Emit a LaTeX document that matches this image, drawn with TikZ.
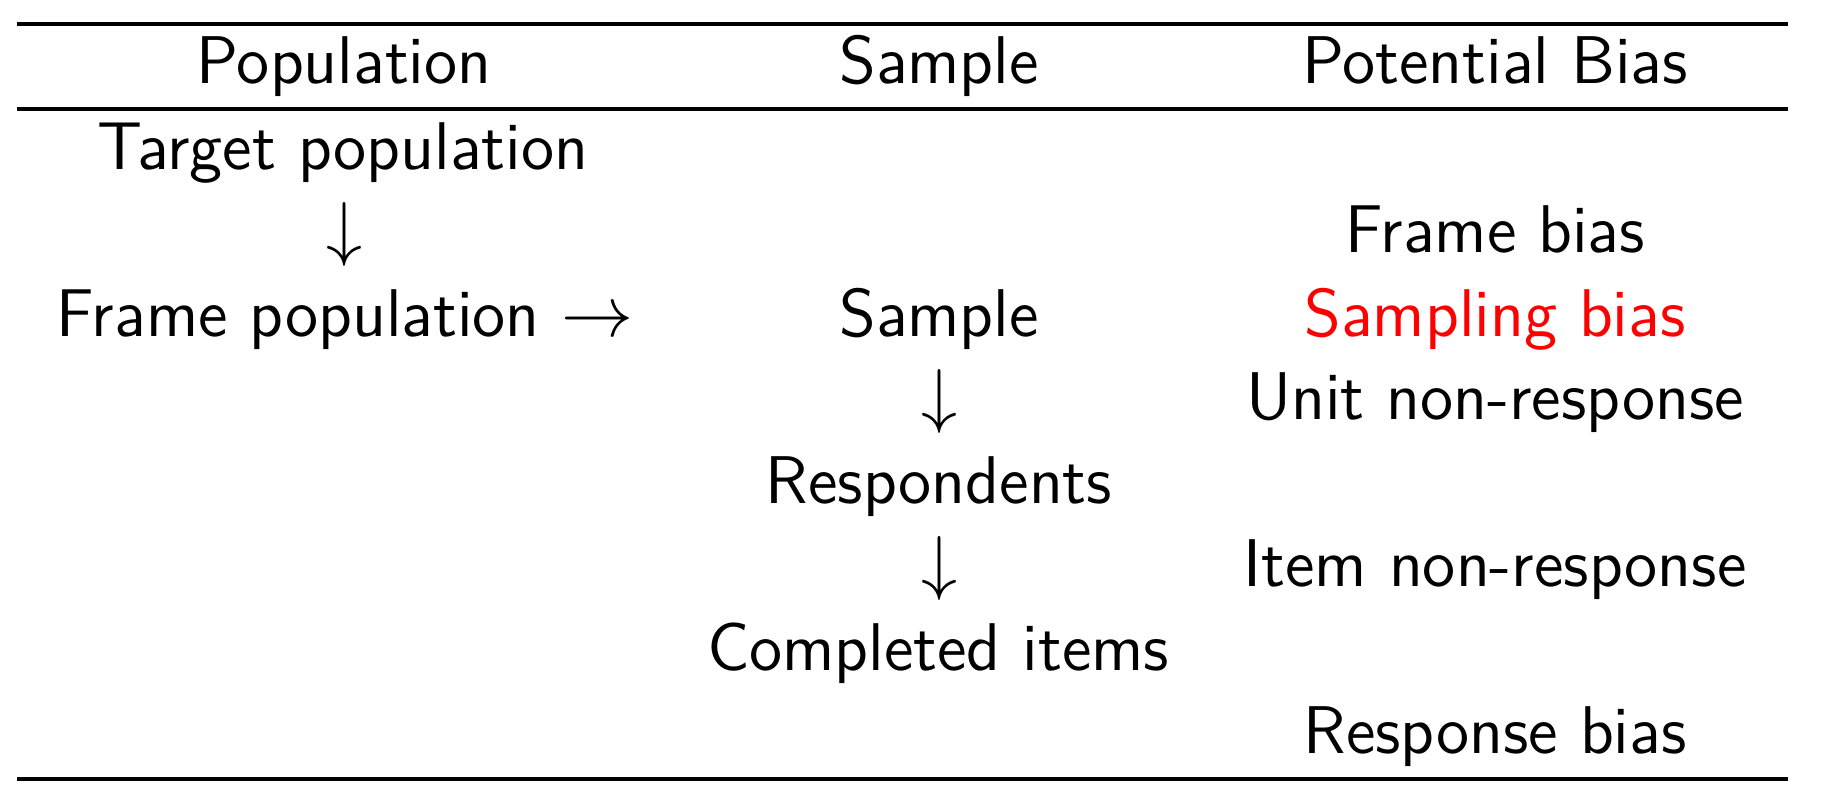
\documentclass[tikz,border=0pt]{standalone}
\begin{document}
\begin{tikzpicture}[x=0.2pt,y=-0.2pt,
  txt/.style={anchor=base,inner sep=0pt,font=\fontsize{13.5}{16}\selectfont\sffamily},
  rulethick/.style={line width=0.72pt},
  rulethin/.style={line width=0.62pt}]
\useasboundingbox (0,0) rectangle (1839,803);
% rules
\coordinate (tl) at (17,24); \coordinate (tr) at (1788,24);
\coordinate (ml) at (17,109); \coordinate (mr) at (1788,109);
\coordinate (bl) at (17,779); \coordinate (br) at (1788,779);
\draw[rulethick] (tl) -- (tr);
\draw[rulethin] (ml) -- (mr);
\draw[rulethick] (bl) -- (br);
% header
\node[txt] (hpop) at (344,83) {Population};
\node[txt] (hsam) at (939,83) {Sample};
\node[txt] (hbias) at (1495,83) {Potential Bias};
% column 1
\node[txt] (target) at (343,169) {Target population};
\node[txt] (arr1) at (344,252.5) {$\downarrow$};
\node[txt] (frame) at (345,336) {Frame population $\rightarrow$};
% column 2
\node[txt] (sample) at (939,336) {Sample};
\node[txt] (arr2) at (939,419.5) {$\downarrow$};
\node[txt] (resp) at (939,503) {Respondents};
\node[txt] (arr3) at (939,586.5) {$\downarrow$};
\node[txt] (compl) at (938,670) {Completed items};
% column 3
\node[txt] (fbias) at (1495,252.5) {Frame bias};
\node[txt,text=red] (sbias) at (1495,336) {Sampling bias};
\node[txt] (unr) at (1495,419.5) {Unit non-response};
\node[txt] (inr) at (1495,586.5) {Item non-response};
\node[txt] (rbias) at (1495,753.5) {Response bias};
\end{tikzpicture}
\end{document}
